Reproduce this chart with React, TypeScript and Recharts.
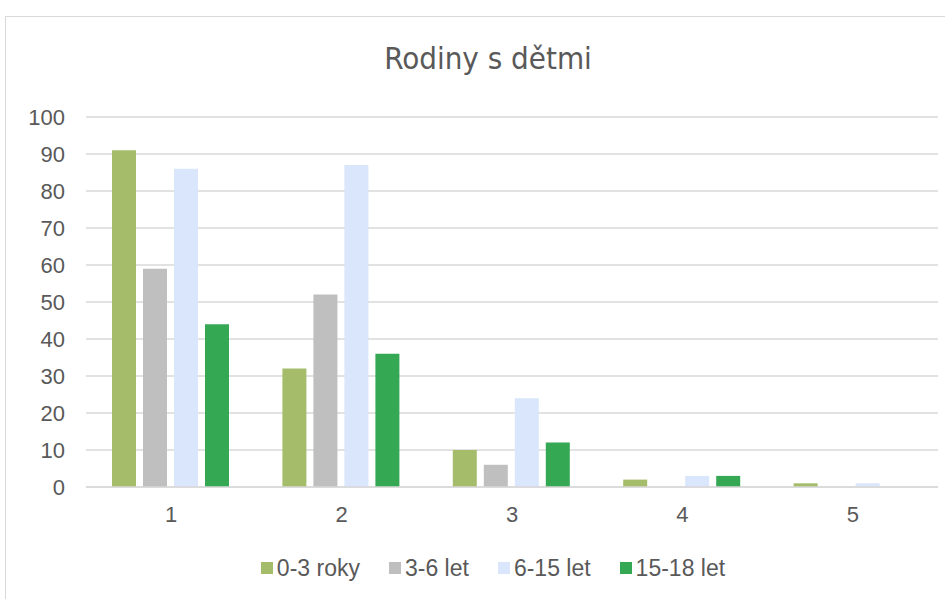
import { Bar, BarChart, CartesianGrid, XAxis, YAxis } from 'recharts';

const categories = ['1', '2', '3', '4', '5'];
const seriesNames = ['0-3 roky', '3-6 let', '6-15 let', '15-18 let'];
const seriesColors = ['#A5BD6A', '#BFBFBF', '#D9E6FB', '#34A853'];
const roky0_3 = [91, 32, 10, 2, 1];
const let3_6 = [59, 52, 6, 0, 0];
const let6_15 = [86, 87, 24, 3, 1];
const let15_18 = [44, 36, 12, 3, 0];
const yTicks = [0, 10, 20, 30, 40, 50, 60, 70, 80, 90, 100];

const seriesValues = [roky0_3, let3_6, let6_15, let15_18];

const data = categories.map((c, i) => {
  const row: Record<string, string | number> = { name: c };
  seriesNames.forEach((s, j) => {
    row[s] = seriesValues[j][i];
  });
  return row;
});

const TEXT = '#595959';
const FONT = '"Liberation Sans", Arial, sans-serif';

export default function App() {
  return (
    <div style={{ position: 'absolute', left: 0, top: 0, width: 945, height: 599, background: '#fff', overflow: 'hidden' }}>
      <div
        style={{
          position: 'absolute',
          left: 5,
          top: 16,
          width: 960,
          height: 620,
          border: '1.5px solid #D9D9D9',
          boxSizing: 'border-box',
        }}
      />
      <div
        style={{
          position: 'absolute',
          left: 0,
          width: 976,
          top: 40,
          textAlign: 'center',
          fontFamily: '"Liberation Sans Narrow", "DejaVu Sans Condensed", sans-serif',
          fontSize: 31,
          color: TEXT,
        }}
      >
        Rodiny s dětmi
      </div>
      <div style={{ position: 'absolute', left: 0, top: 0 }}>
        <BarChart
          width={945}
          height={599}
          data={data}
          margin={{ top: 117, right: 7, left: 0, bottom: 82 }}
          barGap={7}
          barCategoryGap={26}
        >
          <CartesianGrid vertical={false} stroke="#D9D9D9" strokeWidth={1.5} />
          <XAxis
            dataKey="name"
            height={30}
            tickLine={false}
            axisLine={{ stroke: '#D9D9D9', strokeWidth: 1.5 }}
            tick={{ fill: TEXT, fontSize: 22, fontFamily: FONT }}
            tickMargin={13}
          />
          <YAxis
            width={86}
            domain={[0, 100]}
            ticks={yTicks}
            interval={0}
            tickLine={false}
            axisLine={false}
            tick={{ fill: TEXT, fontSize: 22, fontFamily: FONT }}
            tickMargin={15}
          />
          {seriesNames.map((s, i) => (
            <Bar key={s} dataKey={s} fill={seriesColors[i]} isAnimationActive={false} />
          ))}
        </BarChart>
      </div>
      <div
        style={{
          position: 'absolute',
          left: 0,
          width: 986,
          top: 555,
          display: 'flex',
          justifyContent: 'center',
          gap: 29,
          fontFamily: FONT,
          fontSize: 23,
          lineHeight: '26px',
          color: TEXT,
        }}
      >
        {seriesNames.map((s, i) => (
          <div key={s} style={{ display: 'flex', alignItems: 'center' }}>
            <span style={{ display: 'inline-block', width: 12, height: 12, background: seriesColors[i], marginRight: 4 }} />
            {s}
          </div>
        ))}
      </div>
    </div>
  );
}
